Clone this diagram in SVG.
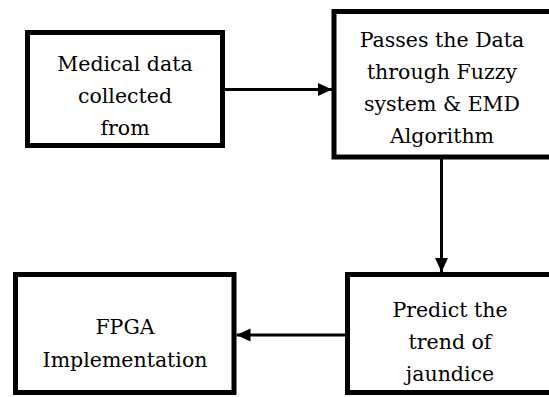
<svg xmlns="http://www.w3.org/2000/svg" width="549" height="397" viewBox="0 0 549 397">
<style>
.box{fill:#fff;stroke:#000;stroke-width:5}
.t{font-family:"DejaVu Serif","Liberation Serif","Noto Serif",serif;font-size:20.5px;fill:#000;text-anchor:middle}
.c{stroke:#000;stroke-width:3;fill:none}
</style>
<defs>
<marker id="ah" markerUnits="userSpaceOnUse" markerWidth="16" markerHeight="16" viewBox="0 0 16 16" refX="15" refY="8" orient="auto">
<path d="M1,1.5 L15,8 L1,14.5 Z" fill="#000"/>
</marker>
</defs>
<rect width="549" height="397" fill="#fff"/>
<g id="connectors">
<line class="c" x1="225" y1="89.5" x2="332" y2="89.5" marker-end="url(#ah)"/>
<line class="c" x1="441.5" y1="159" x2="441.5" y2="272" marker-end="url(#ah)"/>
<line class="c" x1="345" y1="335" x2="236.5" y2="335" marker-end="url(#ah)"/>
</g>
<g id="medical">
<rect class="box" x="27.5" y="32.5" width="195" height="113"/>
<text class="t" x="125" y="71">Medical data</text>
<text class="t" x="125" y="103">collected</text>
<text class="t" x="125" y="135">from</text>
</g>
<g id="fuzzy">
<rect class="box" x="334" y="11.5" width="218" height="145.5"/>
<text class="t" x="442" y="47">Passes the Data</text>
<text class="t" x="442" y="79">through Fuzzy</text>
<text class="t" x="442" y="111">system &amp; EMD</text>
<text class="t" x="442" y="143">Algorithm</text>
</g>
<g id="predict">
<rect class="box" x="347.5" y="274.5" width="205" height="118"/>
<text class="t" x="450" y="317">Predict the</text>
<text class="t" x="450" y="349">trend of</text>
<text class="t" x="450" y="381">jaundice</text>
</g>
<g id="fpga">
<rect class="box" x="15.5" y="274.5" width="218.5" height="118"/>
<text class="t" x="125" y="334">FPGA</text>
<text class="t" x="125" y="367">Implementation</text>
</g>
</svg>
